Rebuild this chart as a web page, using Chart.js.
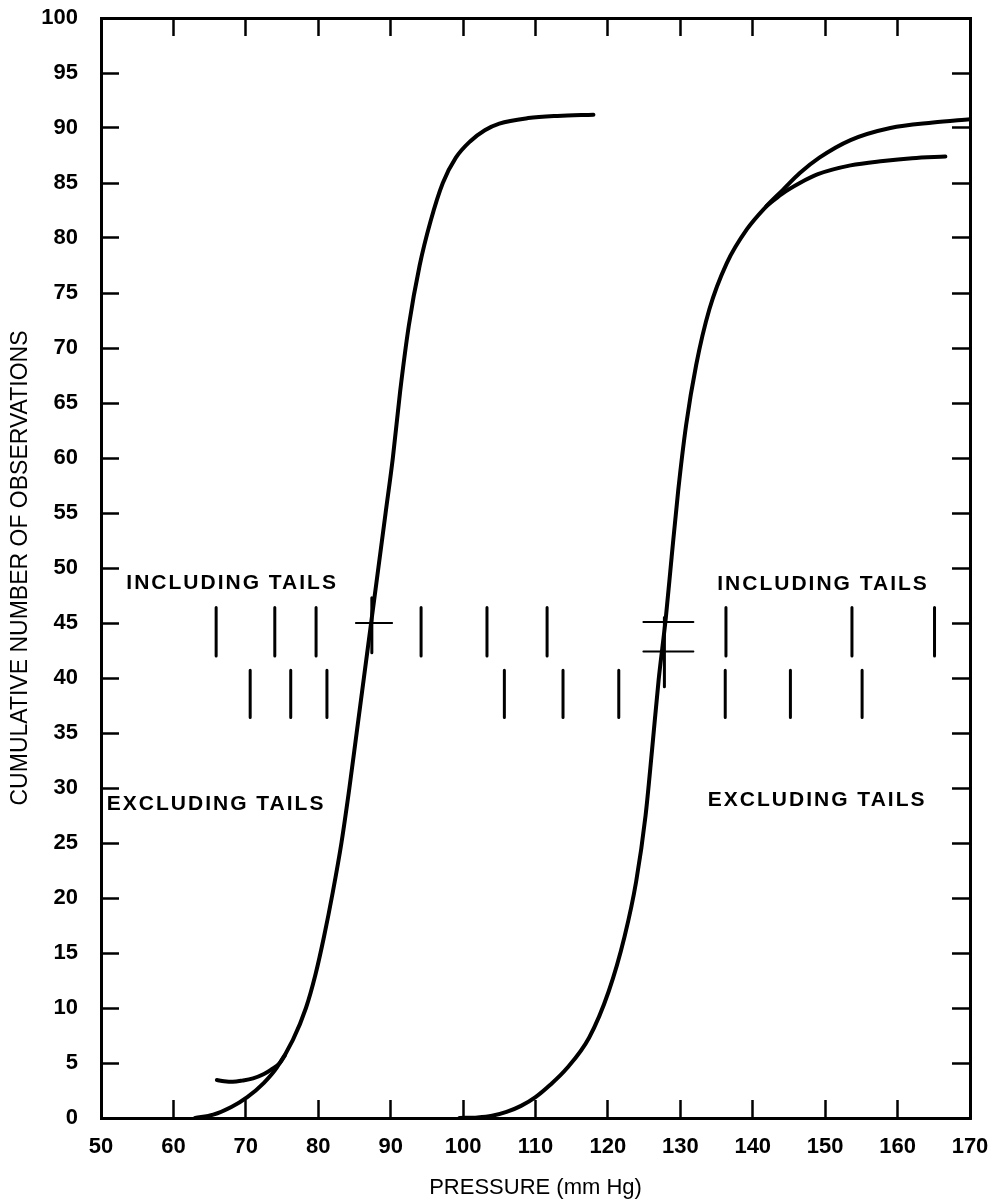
<!DOCTYPE html>
<html>
<head>
<meta charset="utf-8">
<script src="https://cdn.jsdelivr.net/npm/chart.js@4.4.1/dist/chart.umd.min.js"></script>
<style>
    html, body { margin: 0; padding: 0; background: #fff; }
    #wrap { width: 992px; height: 1203px; }
</style>
</head>
<body>
<div id="wrap"><canvas id="pressureChart" width="992" height="1203"></canvas></div>
<script>
// left curve (lower pressures)
const lowCurveX = [63, 65.5, 68, 70.2, 72.5, 74.3, 76.5, 78.3, 79.6, 80.8, 82.0, 83.2, 84.3, 85.3, 86.3, 87.3, 88.3, 89.3, 90.3, 91.3, 92.5, 94.0, 95.5, 97.2, 99, 101, 103, 105, 109, 113, 118];
const lowCurveY = [0, 0.3, 1.0, 1.9, 3.2, 4.6, 7.1, 10, 13, 16.5, 20.5, 25, 30, 35, 40, 45, 50, 55, 60, 66, 72, 77.5, 81.5, 85, 87.3, 88.8, 89.8, 90.4, 90.9, 91.1, 91.2];

// short tail joining the left curve near the bottom
const lowTailX = [66.0, 67.0, 68.2, 69.5, 71.0, 72.5, 73.5, 74.7, 75.4];
const lowTailY = [3.45, 3.35, 3.3, 3.4, 3.6, 4.0, 4.4, 5.0, 5.7];

// right curve (higher pressures), upper branch
const highCurveX = [99.5, 102, 104, 106, 108, 110, 112, 114.3, 117.4, 120.1, 122.3, 123.9, 125.2, 126.1, 127.0, 128.0, 128.8, 129.7, 130.8, 132.2, 134.0, 136.4, 139.2, 141.9, 144.2, 146.5, 149.2, 153.5, 159, 164.9, 170];
const highCurveY = [0, 0.05, 0.2, 0.55, 1.1, 1.9, 3.0, 4.5, 7.3, 11.5, 16.5, 21.5, 27.5, 33.5, 39.8, 45.5, 51, 57, 63, 68.5, 73.5, 77.7, 80.8, 82.9, 84.4, 85.9, 87.3, 88.9, 90.0, 90.5, 90.8];

// lower branch splitting off the right curve at the top
const highBranchX = [141.9, 144.0, 146.5, 149, 153.5, 158, 162, 166.6];
const highBranchY = [82.9, 84.0, 85.0, 85.8, 86.6, 87.0, 87.25, 87.4];

// vertical marks, upper row (including tails)
const upperMarkX = [65.9, 74.0, 79.7, 94.2, 103.3, 111.6, 136.3, 153.7, 165.1];
const upperMarkTop = 46.4;
const upperMarkBottom = 42.0;

// vertical marks, lower row (excluding tails)
const lowerMarkX = [70.6, 76.2, 81.2, 105.7, 113.8, 121.5, 136.2, 145.2, 155.1];
const lowerMarkTop = 40.7;
const lowerMarkBottom = 36.4;

// marks that sit on the curves
const crossMarkX = [87.4, 127.8];
const crossMarkTop = [47.3, 45.5];
const crossMarkBottom = [42.3, 39.2];

// short horizontal dashes
const dashY = [45.0, 45.1, 42.4];
const dashFrom = [85.2, 124.9, 124.9];
const dashTo = [90.2, 131.8, 131.8];

// text notes
const noteText = ['INCLUDING TAILS', 'EXCLUDING TAILS', 'INCLUDING TAILS', 'EXCLUDING TAILS'];
const noteX = [53.5, 50.8, 135.1, 133.8];
const noteY = [48.6, 28.5, 48.5, 28.9];

const FONT = '"Liberation Sans", Arial, Helvetica, sans-serif';

function toPoints(xs, ys) {
    return xs.map((x, i) => ({ x: x, y: ys[i] }));
}

function verticalMarks(xs, tops, bottoms) {
    const pts = [];
    xs.forEach((x, i) => {
        const t = Array.isArray(tops) ? tops[i] : tops;
        const b = Array.isArray(bottoms) ? bottoms[i] : bottoms;
        pts.push({ x: x, y: t }, { x: x, y: b }, { x: x, y: null });
    });
    return pts;
}

function horizontalMarks(ys, froms, tos) {
    const pts = [];
    ys.forEach((y, i) => {
        pts.push({ x: froms[i], y: y }, { x: tos[i], y: y }, { x: tos[i], y: null });
    });
    return pts;
}

function curve(points) {
    return {
        data: points,
        borderColor: '#000',
        borderWidth: 4,
        pointRadius: 0,
        fill: false,
        cubicInterpolationMode: 'monotone',
        borderCapStyle: 'round'
    };
}

function marks(points, width) {
    return {
        data: points,
        borderColor: '#000',
        borderWidth: width,
        pointRadius: 0,
        fill: false,
        tension: 0,
        spanGaps: false,
        borderCapStyle: 'round'
    };
}

// fixed box sizes, no automatic label padding
function fixSize(w, h) {
    return (scale) => {
        if (w !== null) scale.width = w;
        if (h !== null) scale.height = h;
        scale.paddingTop = 0;
        scale.paddingBottom = 0;
        scale.paddingLeft = 0;
        scale.paddingRight = 0;
    };
}

const notesPlugin = {
    id: 'notes',
    afterDatasetsDraw(chart) {
        const ctx = chart.ctx;
        const xs = chart.scales.x;
        const ys = chart.scales.y;
        ctx.save();
        ctx.font = 'bold 21px ' + FONT;
        ctx.letterSpacing = '2px';
        ctx.fillStyle = '#000';
        ctx.textAlign = 'left';
        ctx.textBaseline = 'middle';
        noteText.forEach((t, i) => {
            ctx.fillText(t, xs.getPixelForValue(noteX[i]), ys.getPixelForValue(noteY[i]));
        });
        ctx.restore();
    }
};

const frameGrid = {
    display: true,
    drawOnChartArea: false,
    drawTicks: true,
    tickLength: -18,
    tickWidth: 2.5,
    tickColor: '#000'
};
const frameBorder = { display: true, color: '#000', width: 3 };
const tickFont = { family: FONT, size: 22, weight: 'bold' };

new Chart(document.getElementById('pressureChart'), {
    type: 'line',
    data: {
        datasets: [
            curve(toPoints(lowCurveX, lowCurveY)),
            curve(toPoints(lowTailX, lowTailY)),
            curve(toPoints(highCurveX, highCurveY)),
            curve(toPoints(highBranchX, highBranchY)),
            marks(verticalMarks(upperMarkX, upperMarkTop, upperMarkBottom), 3),
            marks(verticalMarks(lowerMarkX, lowerMarkTop, lowerMarkBottom), 3),
            marks(verticalMarks(crossMarkX, crossMarkTop, crossMarkBottom), 3),
            marks(horizontalMarks(dashY, dashFrom, dashTo), 2)
        ]
    },
    options: {
        responsive: false,
        animation: false,
        events: [],
        layout: { autoPadding: false, padding: { top: 18, right: 22, left: 0, bottom: 0 } },
        plugins: {
            legend: { display: false },
            tooltip: { enabled: false }
        },
        scales: {
            x: {
                type: 'linear',
                position: 'bottom',
                min: 50,
                max: 170,
                ticks: { stepSize: 10, padding: 34, color: '#000', font: tickFont, maxRotation: 0, autoSkip: false },
                grid: frameGrid,
                border: frameBorder,
                title: { display: true, text: 'PRESSURE (mm Hg)', color: '#000', font: { family: FONT, size: 22 }, padding: { top: 0, bottom: 2 } },
                afterFit: fixSize(null, 85)
            },
            x2: {
                type: 'linear',
                position: 'top',
                min: 50,
                max: 170,
                ticks: { stepSize: 10, display: false },
                grid: frameGrid,
                border: frameBorder,
                afterFit: fixSize(null, 0)
            },
            y: {
                type: 'linear',
                position: 'left',
                min: 0,
                max: 100,
                ticks: { stepSize: 5, padding: 41, color: '#000', font: tickFont, autoSkip: false },
                grid: frameGrid,
                border: frameBorder,
                title: { display: true, text: 'CUMULATIVE NUMBER OF OBSERVATIONS', color: '#000', font: { family: FONT, size: 23 }, padding: { top: 7, bottom: 0 } },
                afterFit: fixSize(101, null)
            },
            y2: {
                type: 'linear',
                position: 'right',
                min: 0,
                max: 100,
                ticks: { stepSize: 5, display: false },
                grid: frameGrid,
                border: frameBorder,
                afterFit: fixSize(0, null)
            }
        }
    },
    plugins: [notesPlugin]
});
</script>
</body>
</html>
